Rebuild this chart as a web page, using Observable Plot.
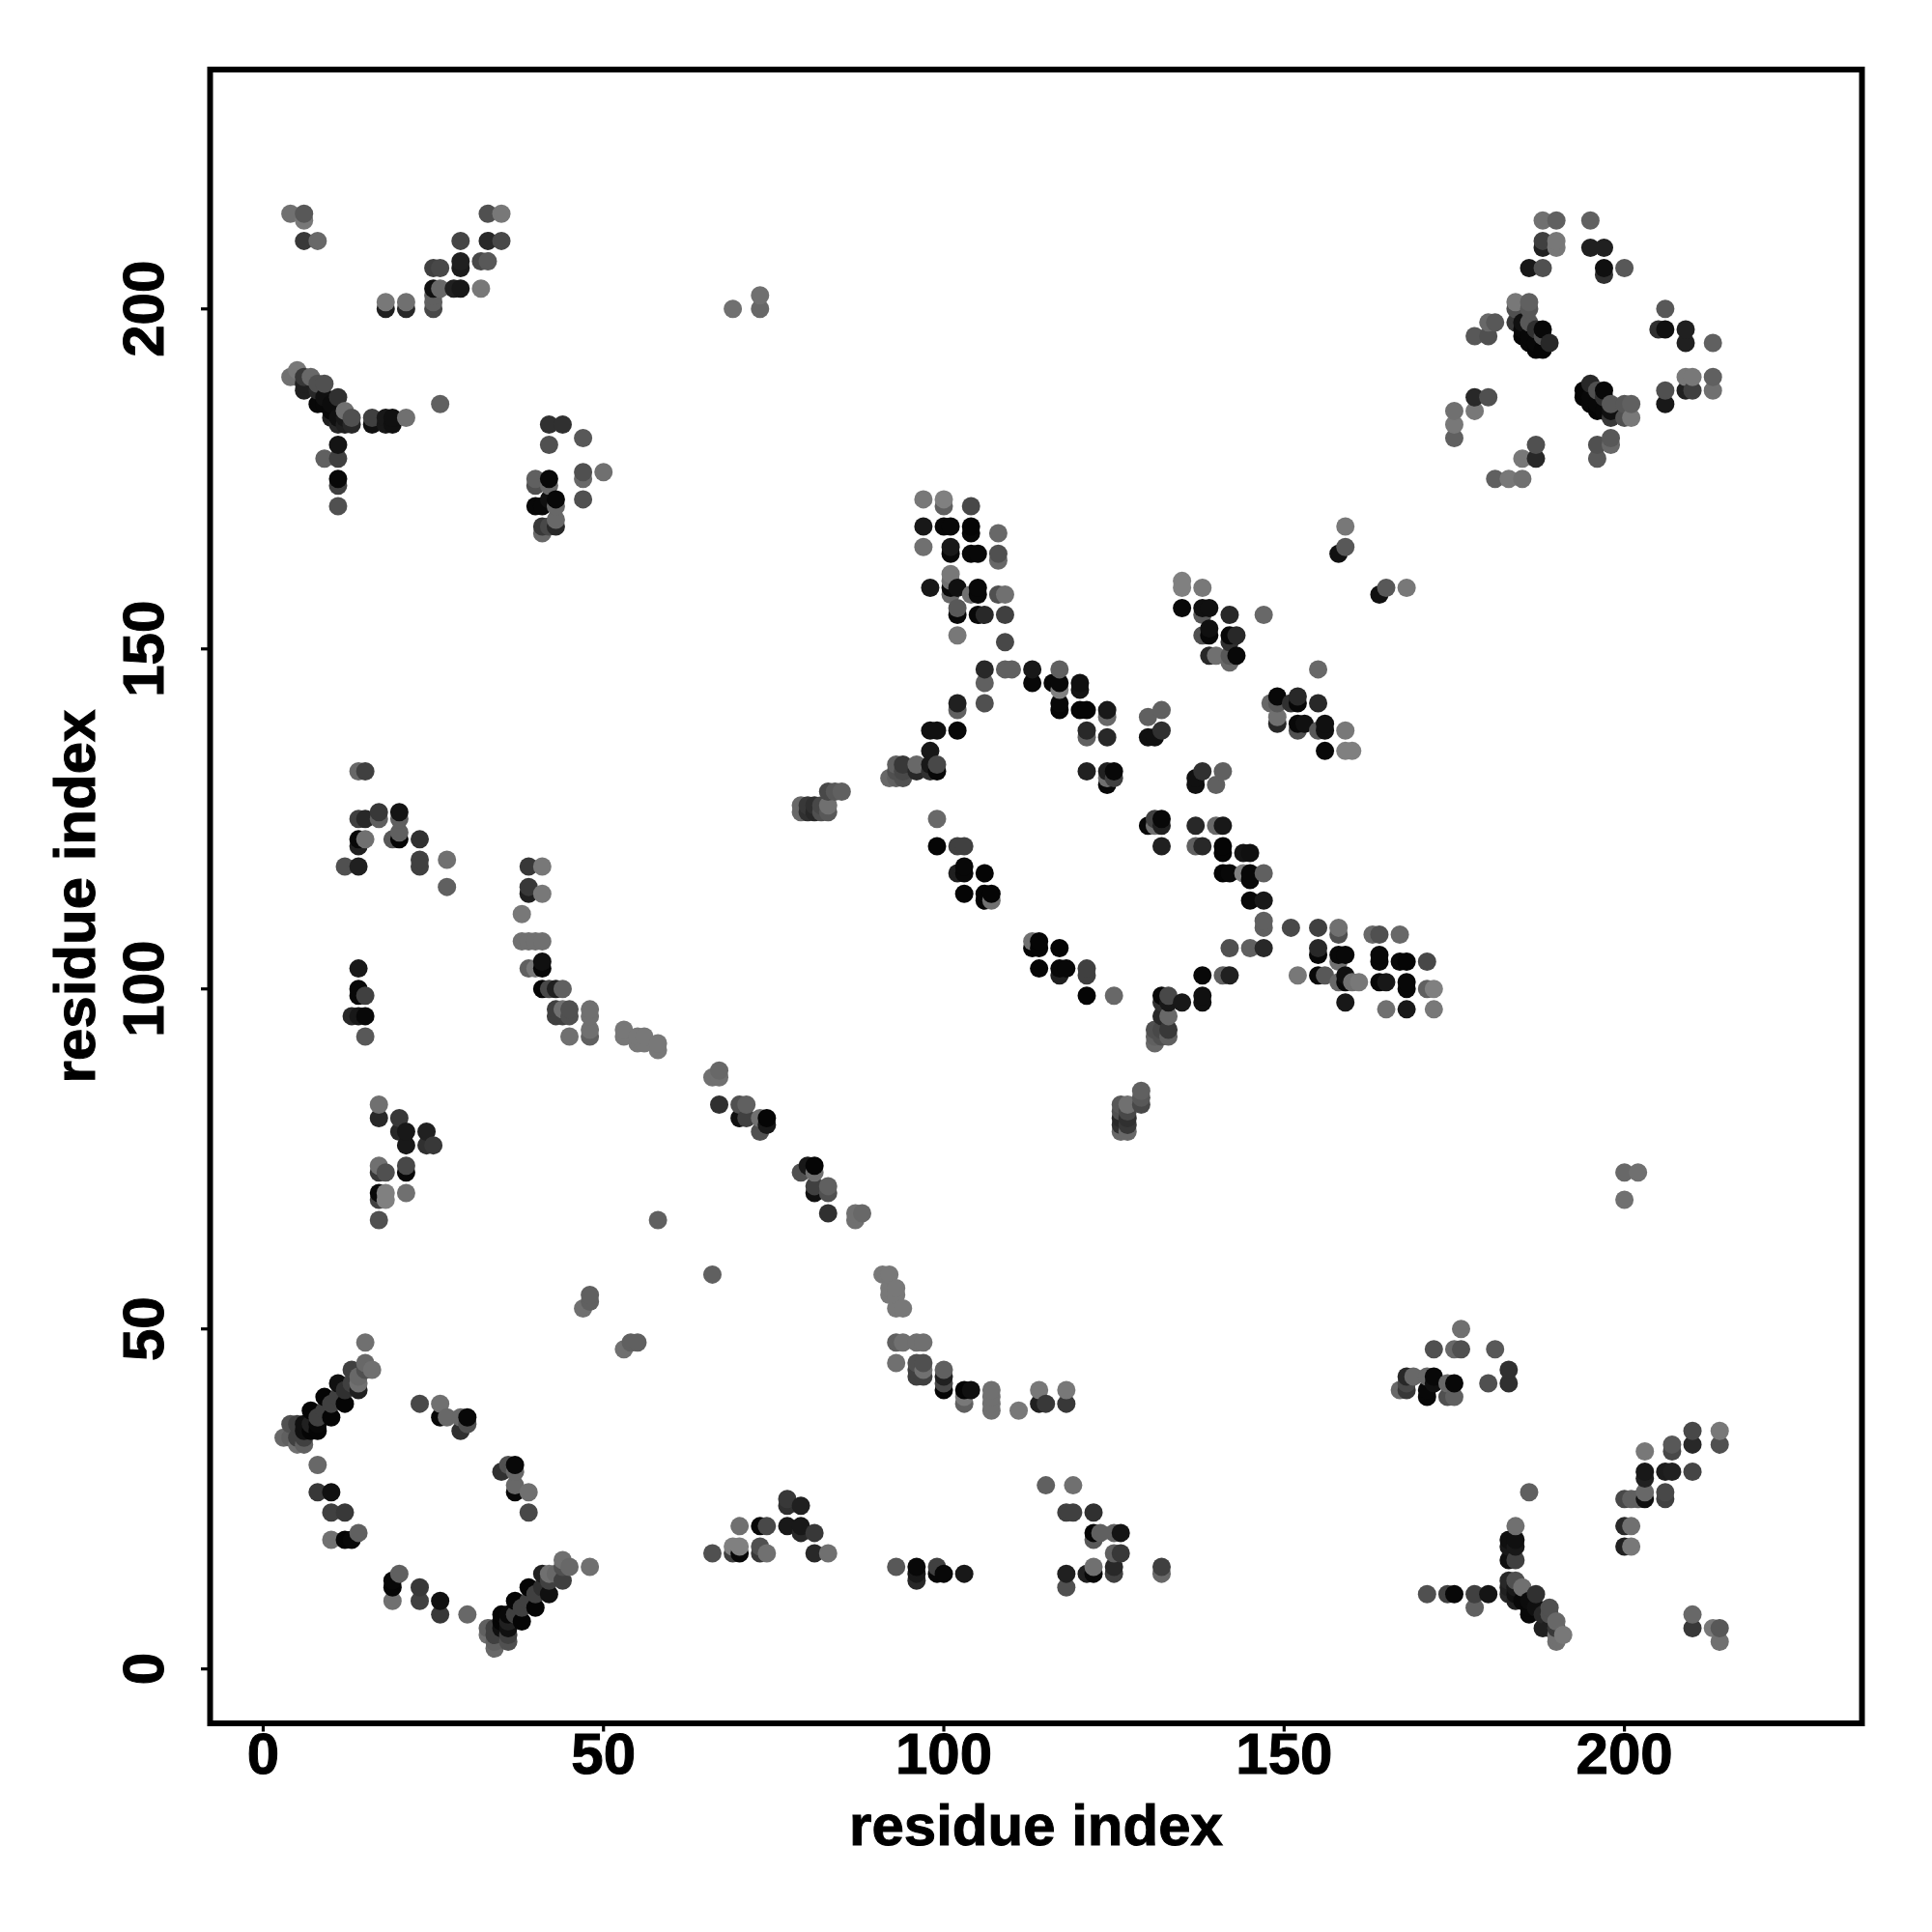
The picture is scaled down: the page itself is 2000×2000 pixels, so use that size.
<!DOCTYPE html>
<html>
<head>
<meta charset="utf-8">
<script src="https://cdn.jsdelivr.net/npm/d3@7"></script>
<script src="https://cdn.jsdelivr.net/npm/@observablehq/plot@0.6"></script>
<style>
  html, body { margin: 0; padding: 0; background: #fff; }
  svg { display: block; }
  svg text { stroke: #000; stroke-width: 1px; }
</style>
</head>
<body>
<div id="chart"></div>
<script>
// Contact map: symmetric about the diagonal, so one triangle of contacts is listed.
const residueI = [
  4,6,6,6,8,
  18,18,21,21,25,25,25,25,25,26,26,28,29,29,29,29,32,32,33,33,33,35,35,
  4,5,5,6,6,6,7,8,8,8,9,9,9,10,10,10,11,11,11,12,12,12,13,13,16,16,18,18,19,19,21,26,
  9,11,11,11,11,11,
  40,40,40,41,41,41,42,42,42,42,42,42,43,43,43,43,44,47,47,47,47,50,
  47,48,48,58,69,73,73,
  12,14,14,14,14,14,15,15,15,17,17,19,20,20,20,20,23,23,23,27,27,
  13,14,14,14,14,15,15,15,
  38,38,39,39,39,39,39,40,40,41,41,41,41,41,41,42,43,43,43,44,44,44,45,45,45,48,48,48,48,53,53,55,55,56,56,58,58,
  66,67,67,67,70,71,70,71,73,74,74,73,
  17,17,17,17,17,17,17,18,18,18,20,20,21,21,21,21,21,24,24,25,
  79,79,80,80,81,81,82,82,83,83,83,84,85,
  92,93,93,93,94,94,94,96,96,98,98,98,98,99,99,99,102,102,102,
  106,106,106,109,110,113,113,116,117,117,117,117,117,120,120,120,121,124,124,121,121,124,121,124,124,124,125,125,
  99,99,102,103,103,102,103,106,103,106,106,107,107,
  97,100,100,104,97,100,101,104,104,108,97,101,101,104,105,108,108,101,101,98,101,101,102,105,105,104,108,109,102,102,105,106,109,102,109,
  135,135,138,135,138,139,138,142,147,138,139,139,142,143,142,139,140,142,143,142,
  158,159,159,130,132,130,131,132,
  175,175,175,178,180,178,178,180,180,181,184,186,184,186,184,185,186,185,185,186,186,187,188,187,187,188,189,188,
  188,190,195,188,188,190,190,195,197,186,188,197,197,200,
  3,4,4,5,5,5,6,6,6,6,7,7,7,8,8,8,9,9,10,10,11,11,12,12,13,13,14,14,14,15,15,16,15,
  23,26,26,27,29,30,30,29,
  8,8,10,10,12,10,12,13,14
];

const residueJ = [
  214,214,213,210,210,
  200,201,200,201,200,201,202,203,206,203,206,203,203,206,207,210,203,207,207,210,214,210,214,
  190,191,190,190,189,188,190,189,188,186,189,187,186,186,185,184,187,184,183,185,184,183,184,183,184,183,184,183,184,183,184,186,
  178,180,178,175,174,171,
  175,174,171,171,168,167,183,180,175,174,172,168,172,171,169,168,183,181,176,175,172,176,
  53,54,55,66,200,200,202,
  118,132,125,122,121,118,132,125,122,126,125,122,126,125,123,122,122,119,118,119,115,
  96,103,100,99,96,99,96,93,
  111,107,118,115,114,107,103,107,103,118,114,107,104,103,100,100,100,97,96,100,97,96,97,96,93,97,96,94,93,94,93,93,92,93,92,92,91,
  87,88,87,83,83,83,81,81,81,81,80,79,
  83,81,74,73,70,69,66,73,70,69,81,79,79,77,74,73,70,79,77,77,
  126,127,126,127,126,127,126,127,126,127,129,129,129,
  131,133,131,132,133,131,132,133,132,135,133,132,138,138,133,132,138,141,142,
  147,145,142,147,147,147,145,145,147,145,144,142,141,145,144,141,141,141,140,138,137,137,132,132,131,130,132,131,
  125,121,121,121,118,117,117,117,114,114,113,114,113,
  172,172,171,171,168,168,168,168,167,167,165,165,164,164,164,164,163,161,160,159,159,158,159,159,158,158,158,158,156,155,155,155,155,152,151,
  160,159,159,156,156,156,155,155,155,152,153,152,152,152,151,149,149,149,149,148,
  164,165,168,140,141,137,137,138,
  185,183,181,187,187,185,196,196,198,198,201,201,200,200,198,198,198,197,196,196,195,197,197,195,194,194,195,196,
  213,213,213,210,209,210,209,209,209,206,206,206,205,206,
  34,36,34,36,34,33,33,34,36,35,35,38,36,35,37,36,38,40,37,39,40,42,39,41,42,44,41,42,43,44,45,44,48,
  39,39,37,37,37,37,36,35,
  30,26,26,23,23,19,19,19,20
];

const shade = [
  0x70,0x58,0x78,0x38,0x68,
  0x20,0x78,0x28,0x70,0x48,0x60,0x60,0x10,0x40,0x68,0x48,0x20,0x18,0x1c,0x20,0x45,0x78,0x48,0x58,0x28,0x50,0x48,0x78,
  0x70,0x78,0x70,0x38,0x20,0x20,0x68,0x50,0x28,0x08,0x50,0x10,0x08,0x0c,0x08,0x20,0x30,0x10,0x28,0x70,0x18,0x20,0x50,0x28,0x40,0x10,0x18,0x18,0x10,0x10,0x70,0x60,
  0x60,0x14,0x40,0x08,0x40,0x50,
  0x60,0x50,0x08,0x08,0x38,0x68,0x30,0x50,0x08,0x68,0x10,0x48,0x08,0x68,0x68,0x28,0x30,0x58,0x50,0x68,0x50,0x70,
  0x70,0x60,0x60,0x60,0x70,0x68,0x70,
  0x50,0x68,0x40,0x08,0x20,0x20,0x40,0x28,0x70,0x38,0x60,0x58,0x14,0x60,0x60,0x05,0x30,0x40,0x40,0x70,0x60,
  0x28,0x18,0x08,0x08,0x18,0x40,0x08,0x58,
  0x78,0x70,0x38,0x38,0x20,0x70,0x60,0x70,0x78,0x78,0x78,0x70,0x10,0x05,0x05,0x48,0x20,0x40,0x40,0x60,0x70,0x40,0x50,0x50,0x70,0x70,0x70,0x70,0x60,0x78,0x78,0x78,0x78,0x78,0x78,0x78,0x78,
  0x70,0x68,0x70,0x30,0x50,0x60,0x10,0x40,0x70,0x05,0x18,0x50,
  0x70,0x28,0x70,0x38,0x08,0x40,0x50,0x50,0x80,0x80,0x38,0x28,0x18,0x18,0x48,0x08,0x70,0x20,0x30,0x38,
  0x68,0x68,0x30,0x38,0x28,0x30,0x50,0x48,0x58,0x70,0x48,0x58,0x60,
  0x68,0x60,0x60,0x50,0x38,0x50,0x48,0x68,0x28,0x18,0x18,0x30,0x10,0x10,0x48,0x08,0x08,0x60,0x20,
  0x28,0x60,0x50,0x60,0x60,0x18,0x08,0x08,0x60,0x08,0x80,0x08,0x05,0x10,0x14,0x05,0x05,0x18,0x68,0x28,0x60,0x28,0x20,0x20,0x70,0x08,0x08,0x40,
  0x68,0x05,0x40,0x40,0x08,0x20,0x08,0x05,0x05,0x05,0x05,0x05,0x70,
  0x78,0x80,0x60,0x48,0x18,0x08,0x08,0x05,0x08,0x68,0x70,0x18,0x08,0x08,0x08,0x50,0x68,0x78,0x70,0x18,0x08,0x68,0x10,0x08,0x08,0x70,0x50,0x70,0x58,0x08,0x08,0x28,0x40,0x78,0x48,
  0x80,0x80,0x78,0x08,0x10,0x10,0x58,0x28,0x68,0x50,0x10,0x08,0x08,0x28,0x30,0x28,0x70,0x58,0x08,0x68,
  0x10,0x58,0x78,0x60,0x60,0x10,0x10,0x30,
  0x70,0x78,0x60,0x28,0x50,0x78,0x58,0x50,0x68,0x58,0x78,0x60,0x50,0x58,0x38,0x10,0x58,0x08,0x05,0x08,0x08,0x30,0x08,0x08,0x05,0x05,0x28,0x50,
  0x70,0x60,0x60,0x40,0x20,0x78,0x78,0x20,0x20,0x18,0x50,0x10,0x30,0x58,
  0x68,0x50,0x60,0x40,0x40,0x70,0x60,0x40,0x10,0x10,0x05,0x05,0x20,0x05,0x40,0x08,0x40,0x05,0x05,0x40,0x40,0x10,0x05,0x30,0x40,0x40,0x20,0x70,0x68,0x50,0x68,0x70,0x70,
  0x48,0x70,0x08,0x68,0x68,0x08,0x50,0x30,
  0x68,0x38,0x10,0x40,0x38,0x70,0x05,0x08,0x60
];

const tickValues = [0, 50, 100, 150, 200];
const axisTitle = "residue index";

// Every contact (i, j) is also contact (j, i). Later rows paint over earlier ones.
const upper = residueI.map((v, k) => ({x: v, y: residueJ[k], s: shade[k]}));
const contacts = d3.sort(
  upper.concat(upper.map(d => ({x: d.y, y: d.x, s: d.s}))),
  d => d.x, d => d.y
);

const font = "'Liberation Sans', Arial, Helvetica, sans-serif";

const chart = Plot.plot({
  width: 2000,
  height: 2000,
  marginLeft: 217,
  marginRight: 73,
  marginTop: 71.5,
  marginBottom: 216.5,
  style: {fontFamily: font, fontWeight: "bold", background: "#fff", color: "#000"},
  x: {domain: [-7.8, 234.9]},
  y: {domain: [-8, 235.2]},
  marks: [
    Plot.dot(contacts, {
      x: "x", y: "y", r: 9.5, stroke: "none",
      fill: d => d3.rgb(d.s, d.s, d.s).formatHex()
    }),
    Plot.frame({stroke: "#000", strokeWidth: 6}),
    Plot.axisX({
      ticks: tickValues, tickSize: 9, tickPadding: 0, strokeWidth: 3.2,
      fontSize: 60, label: null, tickFormat: d => String(d)
    }),
    Plot.axisY({
      ticks: tickValues, tickSize: 9, tickPadding: 40, strokeWidth: 3.2,
      fontSize: 60, label: null, tickRotate: -90, tickFormat: d => String(d)
    }),
    Plot.text([axisTitle], {
      frameAnchor: "bottom", dy: 126, fontSize: 60, lineAnchor: "bottom", fill: "#000"
    }),
    Plot.text([axisTitle], {
      frameAnchor: "left", dx: -139, rotate: -90, fontSize: 60, textAnchor: "middle", fill: "#000"
    })
  ]
});

document.getElementById("chart").appendChild(chart);
</script>
</body>
</html>
